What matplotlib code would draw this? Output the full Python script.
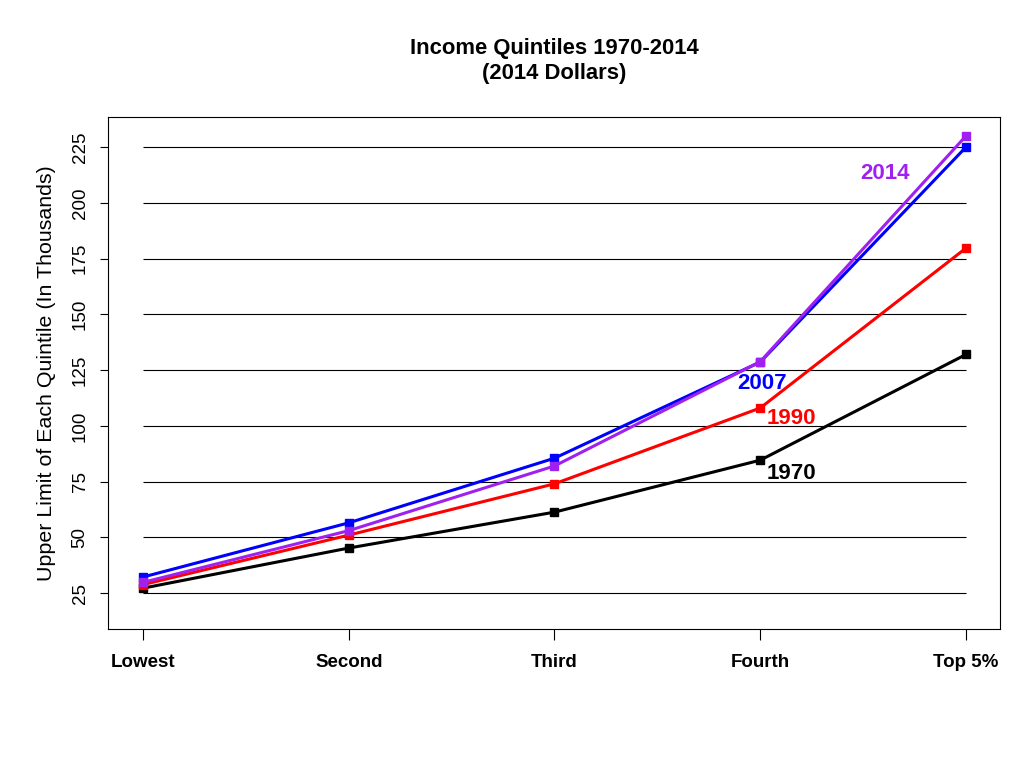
import matplotlib
matplotlib.use('Agg')
import matplotlib.pyplot as plt

plt.rcParams['font.family'] = ['Liberation Sans', 'DejaVu Sans']

quintiles = ['Lowest', 'Second', 'Third', 'Fourth', 'Top 5%']
years = ['1970', '1990', '2007', '2014']
v1970 = [27.2, 45.2, 61.3, 84.6, 132.0]
v1990 = [28.8, 51.0, 74.0, 108.0, 179.7]
v2007 = [32.2, 56.5, 85.5, 128.6, 225.0]
v2014 = [29.8, 53.0, 82.0, 128.8, 230.0]
yticks = [25, 50, 75, 100, 125, 150, 175, 200, 225]

colors = {'1970': 'black', '1990': '#FF0000', '2007': '#0000FF', '2014': '#A020F0'}
series = {'1970': v1970, '1990': v1990, '2007': v2007, '2014': v2014}
# label anchor: (x index, y value)
label_pos = {'1970': (3.033, 78.7), '1990': (3.033, 103.2), '2007': (2.887, 119), '2014': (3.485, 213.2)}

fig = plt.figure(figsize=(10.24, 7.68), dpi=100)
ax = fig.add_axes([0.1055, 0.181, 0.871, 0.6667])
x = list(range(len(quintiles)))

ax.hlines(yticks, 0, 4, color='black', linewidth=0.8, zorder=1)

for yr in years:
    ax.plot(x, series[yr], color=colors[yr], linewidth=2.2, marker='s',
            markersize=6, zorder=3)
    lx, ly = label_pos[yr]
    ax.text(lx, ly, yr, color=colors[yr], fontsize=16, fontweight='bold',
            ha='left', va='center', zorder=4)

ax.set_xlim(-0.17, 4.165)
ax.set_ylim(8.9, 238.5)
ax.set_xticks(x)
ax.set_xticklabels(quintiles, fontsize=13.5, fontweight='bold')
ax.set_yticks(yticks)
ax.set_yticklabels([str(t) for t in yticks], fontsize=13.5, rotation=90, va='center')
ax.tick_params(axis='x', length=8, pad=10)
ax.tick_params(axis='y', length=6, pad=8)
for s in ax.spines.values():
    s.set_linewidth(0.8)

ax.set_ylabel('Upper Limit of Each Quintile (In Thousands)', fontsize=15.4, labelpad=11)
ax.set_title('Income Quintiles 1970-2014\n(2014 Dollars)', fontsize=15.8,
             fontweight='bold', pad=27, linespacing=1.3)

plt.savefig('out.png', dpi=100)
plt.close()
